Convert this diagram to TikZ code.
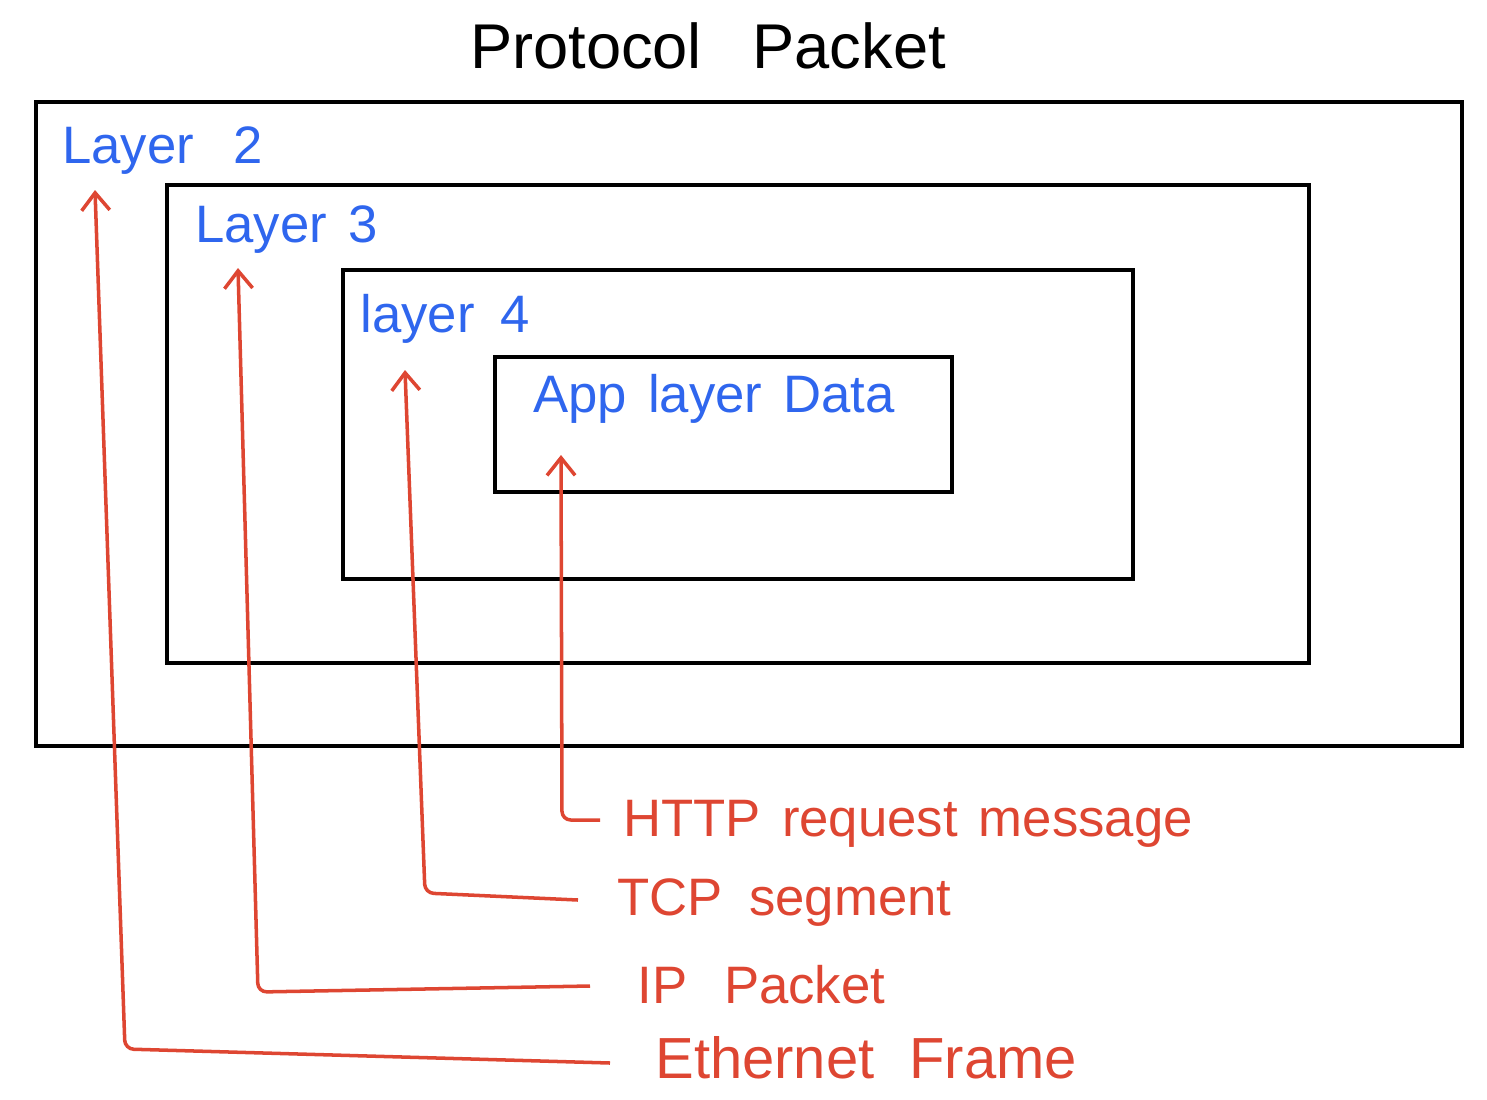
\documentclass[tikz,border=0pt]{standalone}
\usepackage{fontspec}
\setmainfont{Liberation Sans}
\usetikzlibrary{arrows.meta}
\definecolor{lblue}{HTML}{2F66EE}
\definecolor{lred}{HTML}{DE4632}
\begin{document}
\begin{tikzpicture}[x=0.02cm,y=-0.02cm,
  box/.style={draw=black,line width=2.3pt,inner sep=0pt},
  bluelbl/.style={text=lblue,font=\fontsize{30}{34}\selectfont,anchor=base west,inner sep=0pt},
  redlbl/.style={text=lred,font=\fontsize{30}{34}\selectfont,anchor=base west,inner sep=0pt},
  arr/.style={draw=lred,line width=2pt,rounded corners=5pt,-{Straight Barb[length=10pt,width=16pt,line width=2pt]}}]
\useasboundingbox (0,0) rectangle (1487,1099);
% boxes
\node[box,minimum width=1426*0.02cm,minimum height=644*0.02cm] (b2) at (749,424) {};
\node[box,minimum width=1142*0.02cm,minimum height=478*0.02cm] (b3) at (738,424) {};
\node[box,minimum width=790*0.02cm,minimum height=309*0.02cm] (b4) at (738,424.5) {};
\node[box,minimum width=457*0.02cm,minimum height=135*0.02cm] (b7) at (723.5,424.5) {};
% title
\node[anchor=base,inner sep=0pt,font=\fontsize{36}{40}\selectfont] (title) at (708,68) {Protocol\hspace{0.8em}Packet};
% blue labels
\node[bluelbl] (l2) at (62,163) {Layer\hspace{0.75em}2};
\node[bluelbl] (l3) at (195,242) {Layer\hspace{0.4em}3};
\node[bluelbl] (l4) at (360,332) {layer\hspace{0.5em}4};
\node[bluelbl] (l7) at (533,412) {App\hspace{0.4em}layer\hspace{0.4em}Data};
% red labels
\node[redlbl] (http) at (623,836) {HTTP\hspace{0.4em}request\hspace{0.4em}message};
\node[redlbl] (tcp) at (617,915) {TCP\hspace{0.5em}segment};
\node[redlbl] (ip) at (637,1003) {IP\hspace{0.7em}Packet};
\node[redlbl,font=\fontsize{33}{37}\selectfont] (eth) at (655,1078) {Ethernet\hspace{0.6em}Frame};
% arrow tips
\coordinate (t2) at (95,190);
\coordinate (t3) at (238,268);
\coordinate (t4) at (405,370);
\coordinate (t7) at (561,455);
% connectors
\draw[arr] ([xshift=-45*0.02cm,yshift=0.3cm]eth.base west) -- (125,1049) -- (t2);
\draw[arr] ([xshift=-47*0.02cm,yshift=0.34cm]ip.base west) -- (258,992) -- (t3);
\draw[arr] ([xshift=-39*0.02cm,yshift=0.3cm]tcp.base west) -- (425,893) -- (t4);
\draw[arr] ([xshift=-23*0.02cm,yshift=0.32cm]http.base west) -- (562,820) -- (t7);
\end{tikzpicture}
\end{document}
